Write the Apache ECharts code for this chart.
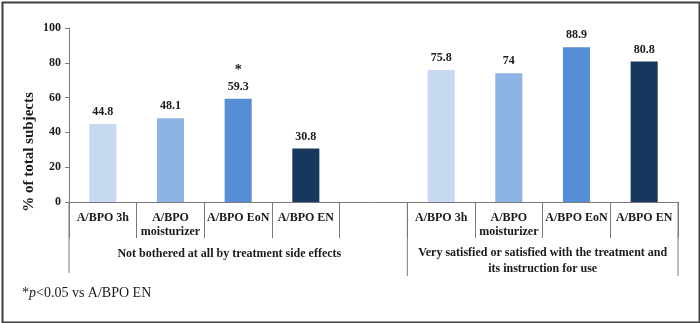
<!DOCTYPE html>
<html>
<head>
<meta charset="utf-8">
<script src="https://cdn.jsdelivr.net/npm/echarts@6/dist/echarts.min.js"></script>
<style>
html,body{margin:0;padding:0;background:#fff;}
#c{width:700px;height:323px;}
</style>
</head>
<body>
<div id="c"></div>
<script>
var treatments = ['A/BPO 3h', 'A/BPO\nmoisturizer', 'A/BPO EoN', 'A/BPO EN'];
var leftValues = [44.8, 48.1, 59.3, 30.8];
var rightValues = [75.8, 74, 88.9, 80.8];
var leftSig = ['', '', '*', ''];
var rightSig = ['', '', '', ''];
var groupLabels = ['Not bothered at all by treatment side effects', 'Very satisfied or satisfied with the treatment and\nits instruction for use'];
var barColors = ['#c6d9f0', '#8eb4e3', '#558ed5', '#17375e'];
var yTicks = [0, 20, 40, 60, 80, 100];
var yTitle = '% of total subjects';
var footnote = ['*', 'p', '<0.05 vs A/BPO EN'];

var FONT = '"Liberation Serif", "Times New Roman", serif';
var categories = treatments.concat(['']).concat(treatments);
var values = leftValues.concat(['-']).concat(rightValues);
var sigs = leftSig.concat(['']).concat(rightSig);
var colors = barColors.concat(['#fff']).concat(barColors);

var chart = echarts.init(document.getElementById('c'));
var option = {
  animation: false,
  backgroundColor: '#fff',
  grid: { left: 69, right: 22, top: 28, bottom: 121, containLabel: false },
  xAxis: {
    type: 'category',
    data: categories,
    axisLine: { show: true, lineStyle: { color: '#7a7a7a', width: 1 } },
    axisTick: { show: true, interval: 0, length: 36, lineStyle: { color: '#7a7a7a', width: 1 } },
    axisLabel: {
      interval: 0, margin: 9, color: '#1a1a1a',
      fontFamily: FONT, fontWeight: 'bold', fontSize: 12, lineHeight: 14
    }
  },
  yAxis: {
    type: 'value',
    min: yTicks[0], max: yTicks[yTicks.length - 1], interval: yTicks[1] - yTicks[0],
    splitLine: { show: false },
    axisLine: { show: true, lineStyle: { color: '#7a7a7a', width: 1 } },
    axisTick: { show: true, length: 4, lineStyle: { color: '#7a7a7a' } },
    axisLabel: { margin: 8, color: '#1a1a1a', fontFamily: FONT, fontWeight: 'bold', fontSize: 12 }
  },
  series: [{
    type: 'bar',
    barWidth: '40%',
    data: values.map(function (v, i) {
      return { value: v, itemStyle: { color: colors[i] } };
    }),
    label: {
      show: true,
      position: 'top',
      distance: 5,
      color: '#1a1a1a',
      fontFamily: FONT, fontWeight: 'bold', fontSize: 12,
      formatter: function (p) {
        var s = sigs[p.dataIndex];
        return s ? '{s|' + s + '}\n{v|' + p.value + '}' : '{v|' + p.value + '}';
      },
      rich: {
        v: { fontFamily: FONT, fontWeight: 'bold', fontSize: 12, color: '#1a1a1a', lineHeight: 14 },
        s: { fontFamily: FONT, fontWeight: 'bold', fontSize: 14, color: '#1a1a1a', lineHeight: 19 }
      }
    }
  }]
};
chart.setOption(option);

// derive decoration positions from the axis scales
var c0 = chart.convertToPixel({ xAxisIndex: 0 }, 0);
var c1 = chart.convertToPixel({ xAxisIndex: 0 }, 1);
var band = c1 - c0;
function boundary(i) { return c0 - band / 2 + i * band; }
var y0 = chart.convertToPixel({ yAxisIndex: 0 }, 0);
var yTop = chart.convertToPixel({ yAxisIndex: 0 }, 100);
var nL = treatments.length;
var lineStyle = { stroke: '#7a7a7a', lineWidth: 1 };

var graphics = [
  { type: 'rect', left: 0, top: 0, silent: true, z: 100,
    shape: { x: 1, y: 1, width: 697, height: 320 },
    style: { fill: 'none', stroke: '#3f3f3f', lineWidth: 2 } },
  { type: 'line', shape: { x1: boundary(0), y1: y0, x2: boundary(0), y2: y0 + 71 }, style: lineStyle },
  { type: 'line', shape: { x1: boundary(nL + 1), y1: y0, x2: boundary(nL + 1), y2: y0 + 74 }, style: lineStyle },
  { type: 'line', shape: { x1: boundary(2 * nL + 1), y1: y0, x2: boundary(2 * nL + 1), y2: y0 + 74 }, style: lineStyle },
  { type: 'text', x: (boundary(0) + boundary(nL)) / 2 + 25, y: y0 + 52,
    style: { text: groupLabels[0], fontFamily: FONT, fontWeight: 'bold', fontSize: 12,
      fill: '#1a1a1a', textAlign: 'center', textVerticalAlign: 'middle' } },
  { type: 'text', x: (boundary(nL + 1) + boundary(2 * nL + 1)) / 2, y: y0 + 59,
    style: { text: groupLabels[1], fontFamily: FONT, fontWeight: 'bold', fontSize: 12, lineHeight: 16,
      fill: '#1a1a1a', textAlign: 'center', textVerticalAlign: 'middle' } },
  { type: 'text', x: 29, y: (yTop + y0 + 74) / 2, rotation: Math.PI / 2,
    style: { text: yTitle, fontFamily: FONT, fontWeight: 'bold', fontSize: 15,
      fill: '#1a1a1a', textAlign: 'center', textVerticalAlign: 'middle' } },
  { type: 'text', x: 22, y: 293,
    style: { text: '{n|' + footnote[0] + '}{i|' + footnote[1] + '}{n|' + footnote[2] + '}',
      textVerticalAlign: 'middle',
      rich: {
        n: { fontFamily: FONT, fontSize: 14, fill: '#1a1a1a', color: '#1a1a1a' },
        i: { fontFamily: FONT, fontSize: 14, fontStyle: 'italic', fill: '#1a1a1a', color: '#1a1a1a' }
      } } }
];
chart.setOption({ graphic: graphics });
</script>
</body>
</html>
